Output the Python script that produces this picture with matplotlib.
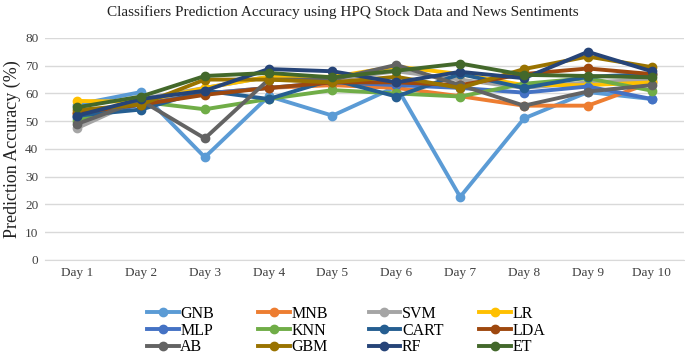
import matplotlib.pyplot as plt
import numpy as np

days = ["Day 1", "Day 2", "Day 3", "Day 4", "Day 5", "Day 6", "Day 7", "Day 8", "Day 9", "Day 10"]

gnb = [56, 60.5, 37, 59, 52, 62.5, 22.7, 51, 60.5, 58]
mnb = [53, 56, 60, 62, 63, 62, 59, 55.6, 55.6, 64]
svm = [47.5, 58, 62, 66, 65, 68, 65, 62, 64, 65]
lr = [57.3, 57, 62, 66, 66, 69.7, 67, 63, 63, 64]
mlp = [51, 56, 60, 62, 64, 63, 62, 60.3, 62.5, 58]
knn = [50, 57, 54.3, 58, 61.2, 60, 58.9, 63.5, 65.5, 61]
cart = [52, 54.2, 61, 58, 65, 58.9, 67, 62, 66, 67]
lda = [53, 56, 59.5, 62, 64, 64, 63, 67, 69, 67]
ab = [49, 57.5, 43.8, 65, 65, 70.3, 63, 55.6, 60.7, 63]
gbm = [54, 56, 65, 65, 64, 66, 62, 68.8, 73.3, 69.5]
rf = [52, 58, 61, 68.8, 68, 64, 67.8, 65.5, 75, 68]
et = [55, 58.9, 66.3, 67.4, 65.8, 68.2, 70.8, 66.7, 66.3, 65.8]

names = ["GNB", "MNB", "SVM", "LR", "MLP", "KNN", "CART", "LDA", "AB", "GBM", "RF", "ET"]
series = [gnb, mnb, svm, lr, mlp, knn, cart, lda, ab, gbm, rf, et]
colors = ["#5B9BD5", "#ED7D31", "#A5A5A5", "#FFC000", "#4472C4", "#70AD47",
          "#255E91", "#9E480E", "#636363", "#997300", "#264478", "#43682B"]

plt.rcParams['font.family'] = ['Liberation Serif', 'DejaVu Serif']

fig = plt.figure(figsize=(6.85, 3.55), dpi=100)
ax = fig.add_axes([0.066, 0.268, 0.932, 0.625])

x = np.arange(len(days))
handles = []
for name, vals, c in zip(names, series, colors):
    h, = ax.plot(x, vals, color=c, lw=2.8, marker='o', markersize=6, label=name,
                 solid_joinstyle='round')
    handles.append(h)

ax.set_xlim(-0.5, len(days) - 0.5)
ax.set_ylim(0, 80)
ax.set_yticks(range(0, 81, 10))
ax.set_xticks(x)
ax.set_xticklabels(days)
ax.tick_params(length=0, labelsize=9.5, colors='#404040', pad=5)
ax.grid(axis='y', color='#D9D9D9', lw=1)
ax.set_axisbelow(True)
for s in ['top', 'right', 'left']:
    ax.spines[s].set_visible(False)
ax.spines['bottom'].set_color('#D9D9D9')

ax.set_ylabel("Prediction Accuracy (%)", fontsize=13, color='#222222', labelpad=3)
fig.text(0.5, 0.965, "Classifiers Prediction Accuracy using HPQ Stock Data and News Sentiments",
         ha='center', va='center', fontsize=11, color='#222222')

# one legend per column so the columns sit at even spacing
ncol = 4
col_x = [0.207, 0.369, 0.531, 0.693]
for c in range(ncol):
    idx = [r * ncol + c for r in range(3)]
    fig.legend([handles[i] for i in idx], [names[i] for i in idx],
               loc='upper left', bbox_to_anchor=(col_x[c], 0.152), frameon=False,
               fontsize=11.5, handlelength=2.0, handletextpad=0.1,
               labelspacing=0.05, borderpad=0, borderaxespad=0.3)

fig.savefig("out.png", dpi=100)
